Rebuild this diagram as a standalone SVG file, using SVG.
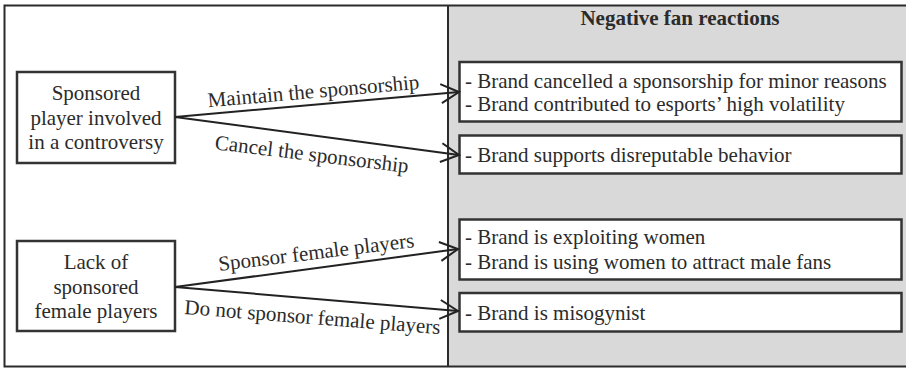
<svg xmlns="http://www.w3.org/2000/svg" width="906" height="368" viewBox="0 0 906 368">
  <style>
    .box { fill: #ffffff; stroke: #333333; stroke-width: 2.5; }
    .t { font-family: "Liberation Serif", "Times New Roman", serif; font-size: 21px; fill: #2b2b2b; }
    .c { text-anchor: middle; }
    .title { font-weight: bold; }
    .edge { fill: none; stroke: #222222; stroke-width: 2; marker-end: url(#open); }
  </style>
  <defs>
    <marker id="open" markerUnits="userSpaceOnUse" markerWidth="24" markerHeight="24" refX="20" refY="12" orient="auto" viewBox="0 0 24 24">
      <path d="M2,2.5 L20,12 L2,21.5" fill="none" stroke="#222222" stroke-width="2"/>
    </marker>
  </defs>

  <!-- frame and shaded reactions panel -->
  <rect x="0" y="0" width="906" height="368" fill="#ffffff"/>
  <rect x="448" y="5.5" width="460" height="361" fill="#d9d9d9"/>
  <rect x="4.5" y="5.5" width="904" height="361" fill="none" stroke="#2b2b2b" stroke-width="2"/>
  <line x1="448" y1="5.5" x2="448" y2="366.5" stroke="#2b2b2b" stroke-width="2"/>
  <text class="t c title" x="680" y="25">Negative fan reactions</text>

  <!-- situations -->
  <g id="controversy">
    <rect class="box" x="17" y="72" width="158" height="91"/>
    <text class="t c" x="96" y="100">Sponsored</text>
    <text class="t c" x="96" y="124.5">player involved</text>
    <text class="t c" x="96" y="149">in a controversy</text>
  </g>
  <g id="female-players">
    <rect class="box" x="17" y="241" width="158" height="90"/>
    <text class="t c" x="96" y="269">Lack of</text>
    <text class="t c" x="96" y="293.5">sponsored</text>
    <text class="t c" x="96" y="318">female players</text>
  </g>

  <!-- reactions -->
  <g id="reaction-maintain">
    <rect class="box" x="459.5" y="62" width="442" height="59.5"/>
    <text class="t" x="465" y="88">- Brand cancelled a sponsorship for minor reasons</text>
    <text class="t" x="465" y="110.5">- Brand contributed to esports’ high volatility</text>
  </g>
  <g id="reaction-cancel">
    <rect class="box" x="459.5" y="135.5" width="442" height="38"/>
    <text class="t" x="465" y="162">- Brand supports disreputable behavior</text>
  </g>
  <g id="reaction-sponsor">
    <rect class="box" x="459.5" y="219.5" width="442" height="60"/>
    <text class="t" x="465" y="244">- Brand is exploiting women</text>
    <text class="t" x="465" y="268.5">- Brand is using women to attract male fans</text>
  </g>
  <g id="reaction-no-sponsor">
    <rect class="box" x="459.5" y="293" width="442" height="38.5"/>
    <text class="t" x="465" y="320">- Brand is misogynist</text>
  </g>

  <!-- decision connectors -->
  <g id="connectors">
    <line class="edge" x1="175" y1="117" x2="459" y2="92"/>
    <line class="edge" x1="175" y1="117" x2="459" y2="155"/>
    <line class="edge" x1="175" y1="287" x2="458" y2="249"/>
    <line class="edge" x1="175" y1="287" x2="458" y2="311"/>
    <text class="t c" transform="translate(314,98) rotate(-5)">Maintain the sponsorship</text>
    <text class="t c" transform="translate(311,161) rotate(7)">Cancel the sponsorship</text>
    <text class="t c" transform="translate(317,259) rotate(-7)">Sponsor female players</text>
    <text class="t c" transform="translate(312,324) rotate(4.5)">Do not sponsor female players</text>
  </g>
</svg>
